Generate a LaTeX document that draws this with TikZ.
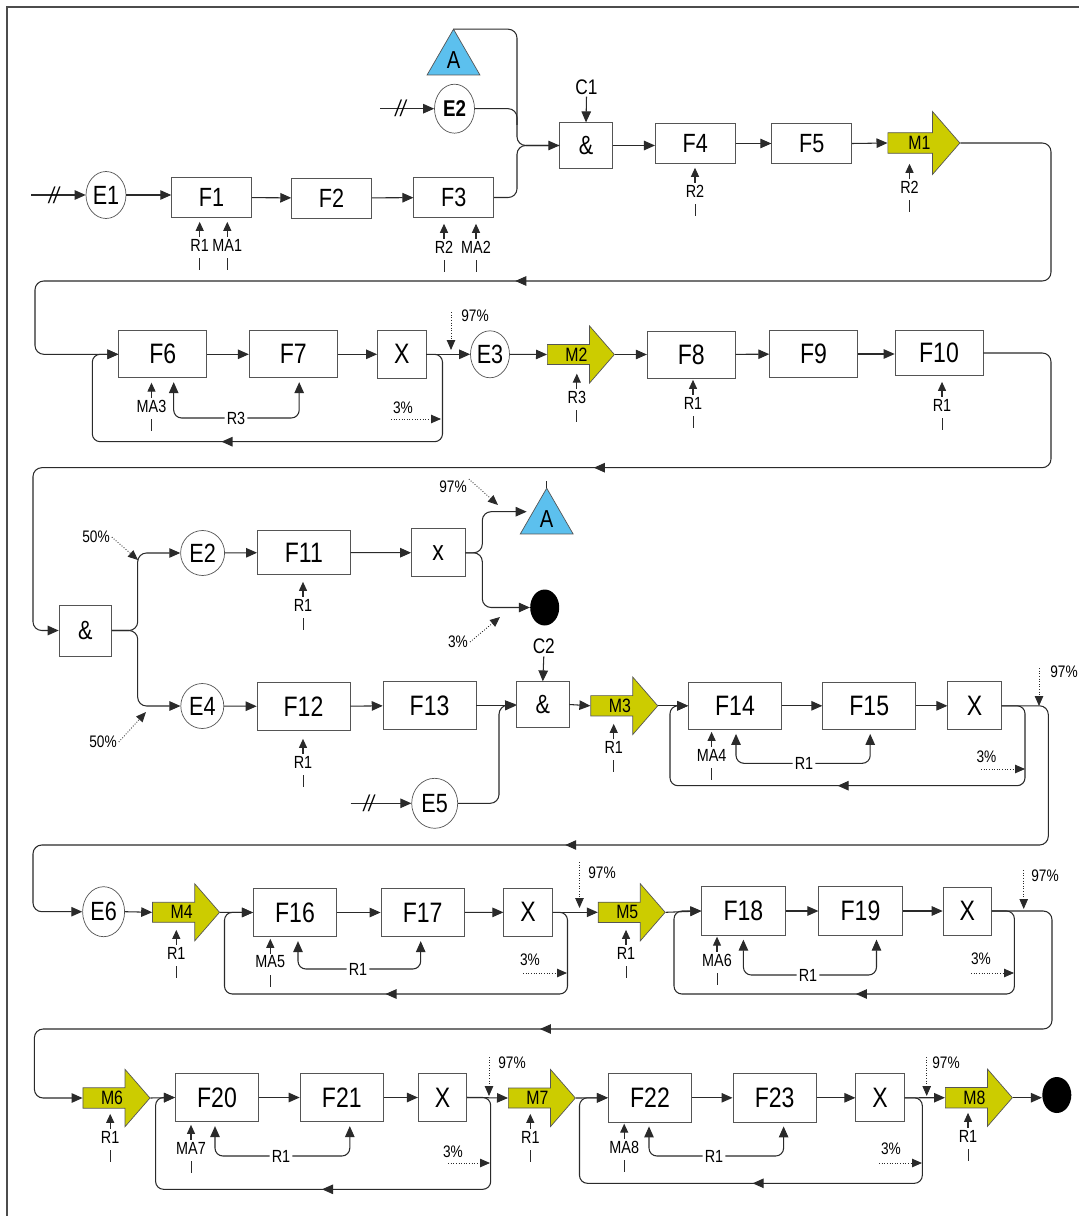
\documentclass[tikz,border=0pt]{standalone}
\usepackage{fontspec}
\setmainfont[FakeStretch=0.82]{Liberation Sans}
\usetikzlibrary{positioning, arrows.meta, shapes.geometric, shapes.arrows, decorations.markings, calc}
\definecolor{mgold}{HTML}{CCCC00}
\definecolor{tblue}{HTML}{5CC0EE}
\definecolor{edgegray}{HTML}{2A2A2A}
\definecolor{boxgray}{HTML}{555555}

\begin{document}
\begin{tikzpicture}[
  x=0.02cm, y=-0.02cm,
  >={Triangle[length=0.22cm, width=0.19cm]},
  wire/.style={draw=edgegray, line width=0.6pt},
  arr/.style={wire, ->},
  midarr/.style={postaction={decorate}, decoration={markings, mark=at position #1 with {\arrow{>}}}},
  dotarr/.style={draw=edgegray, line width=0.5pt, densely dotted, -{Triangle[length=0.2cm, width=0.17cm]}},
  fbox/.style={draw=boxgray, fill=white, minimum width=1.76cm, minimum height=0.94cm, inner sep=0pt, font=\fontsize{16}{16}\selectfont},
  fboxA/.style={fbox, minimum width=1.6cm, minimum height=0.8cm, font=\fontsize{15}{15}\selectfont},
  fboxC/.style={fbox, minimum width=1.86cm, minimum height=0.95cm},
  fboxD/.style={fbox, minimum width=1.67cm, minimum height=0.97cm},
  xbox/.style={fbox, minimum width=0.97cm, minimum height=0.96cm},
  andbox/.style={fbox, minimum width=1.05cm, minimum height=0.91cm, font=\fontsize{15}{15}\selectfont},
  ebox/.style={ellipse, draw=boxgray, fill=white, minimum width=0.8cm, minimum height=0.94cm, inner sep=0pt, font=\fontsize{15}{15}\selectfont},
  mshape/.style={single arrow, draw=boxgray, fill=mgold, anchor=tail, minimum height=1.34cm, minimum width=1.14cm, single arrow head extend=0.37cm, single arrow tip angle=98, inner xsep=0pt, inner ysep=0.06cm, font=\fontsize{11}{11}\selectfont},
  conn/.style={regular polygon, regular polygon sides=3, draw=boxgray, fill=tblue, minimum size=1.22cm, inner sep=0pt, outer sep=0pt, font=\fontsize{14}{14}\selectfont},
  sink/.style={ellipse, fill=black, minimum width=0.58cm, minimum height=0.72cm, inner sep=0pt},
  lbl/.style={inner sep=1pt, font=\fontsize{12}{12}\selectfont},
  reslbl/.style={fill=white, inner sep=1pt, font=\fontsize{10}{10}\selectfont},
  resarr/.style={wire, -{Triangle[length=0.18cm, width=0.16cm]}},
  tick/.style={draw=edgegray, line width=0.45pt},
  pct/.style={inner sep=1pt, font=\fontsize{9.5}{10}\selectfont},
  brk/.style={inner sep=0pt, font=\fontsize{13}{13}\selectfont\itshape}
]
\useasboundingbox (0,0) rectangle (1079,1216);
\draw[draw=black!70, line width=1.3pt] (7,1216) -- (7,7) -- (1079,7);

\node[ebox] (E1) at (106,195) {E1};
\node[fboxA] (F1) at (211.6,197.5) {F1};
\node[fboxA] (F2) at (331.6,198) {F2};
\node[fboxA] (F3) at (453.8,197.5) {F3};
\node[conn] (A1) at (453.5,59.7) {A};
\node[ebox, minimum height=0.98cm, font=\fontsize{13}{13}\selectfont\bfseries] (E2) at (454.5,108.7) {E2};
\node[andbox] (and1) at (586,145.5) {\&};
\node[lbl] (C1) at (586.5,87) {C1};
\node[fboxA] (F4) at (695.3,143.5) {F4};
\node[fboxA] (F5) at (811.7,143.5) {F5};
\node[mshape, minimum height=1.44cm, minimum width=1.26cm, single arrow head extend=0.42cm, inner ysep=0.065cm] (M1) at (887.5,143) {M1};

\coordinate (in1) at (31,195);
\coordinate (in2) at (380,108.7);
\draw[arr] (in1) -- node[brk, pos=0.42] {//} (E1.west);
\draw[arr] (E1.east) -- (E1.east -| F1.west);
\draw[arr] (F1) -- (F2);
\draw[arr] (F2) -- (F3);
\draw[arr] (in2) -- node[brk, pos=0.38] {//} (E2.west);
\draw[wire, rounded corners=5pt] (E2.east) -| (517,125);
\draw[wire, rounded corners=5pt] (A1.corner 1) -| (517,145.5) -- (and1.west);
\draw[arr, rounded corners=5pt] (F3.east) -| (517,145.5) -- (and1.west);
\draw[arr] (C1.south) -- (and1.north);
\draw[arr] (and1.east) -- (and1.east -| F4.west);
\draw[arr] (F4) -- (F5);
\draw[arr] (F5.east) -- (M1.tail);

\node[fbox] (F6) at (162.7,354.3) {F6};
\node[fbox] (F7) at (293.2,354.3) {F7};
\node[xbox] (X1) at (401.7,354.3) {X};
\node[ebox, minimum width=0.78cm] (E3) at (490,354.3) {E3};
\node[mshape] (M2) at (547,354.5) {M2};
\node[fbox] (F8) at (691.2,354.5) {F8};
\node[fbox] (F9) at (813.6,354) {F9};
\node[fbox, minimum height=0.9cm] (F10) at (939,353) {F10};

\draw[arr, rounded corners=5pt, midarr=0.546] (M1.tip) -| (1051,281) -| (35,354.3) -- (F6.west);
\draw[arr] (F6) -- (F7);
\draw[arr] (F7) -- (X1);
\draw[arr] (X1) -- (E3);
\draw[arr] (E3.east) -- (M2.tail);
\draw[arr] (M2.tip) -- (F8.west);
\draw[arr] (F8) -- (F9);
\draw[arr] (F9.east) -- (F9.east -| F10.west);
\draw[arr, rounded corners=4.5pt, midarr=0.574] (X1.east) -| (442.5,441.7) -| (92.3,354.3) -- (F6.west);

\node[andbox, minimum height=1.02cm] (and3) at (85.3,630.5) {\&};
\node[ebox, minimum width=0.88cm, minimum height=0.9cm] (E2b) at (202.6,553) {E2};
\node[fboxC, minimum height=0.88cm] (F11) at (303.9,552.5) {F11};
\node[xbox, minimum width=1.07cm] (xb) at (438.2,552.8) {x};
\node[conn] (A2) at (546.7,518.7) {A};
\node[sink] (dot1) at (544.7,607.5) {};
\node[ebox, minimum width=0.86cm, minimum height=0.9cm] (E4) at (202.3,706) {E4};
\node[fboxC] (F12) at (303.5,706.5) {F12};
\node[fboxC] (F13) at (429.6,705.5) {F13};
\node[ebox, minimum width=0.92cm, minimum height=1.0cm] (E5) at (434.7,803.3) {E5};
\node[andbox] (and2) at (542.8,704.5) {\&};
\node[lbl] (C2) at (543.8,646.7) {C2};
\node[mshape] (M3) at (590.4,705.8) {M3};
\node[fboxC] (F14) at (735,705.8) {F14};
\node[fboxC] (F15) at (869.2,705.8) {F15};
\node[xbox, minimum width=1.07cm] (X3) at (974.5,705.8) {X};

\draw[arr, rounded corners=5pt, midarr=0.46] (F10.east) -| (1051,467.7) -| (33,630.5) -- (and3.west);
\draw[arr, rounded corners=5pt] (and3.east) -| (137.7,553) -- (E2b.west);
\draw[arr, rounded corners=5pt] (and3.east) -| (137.7,706) -- (E4.west);
\draw[arr] (E2b) -- (F11);
\draw[arr] (F11) -- (xb);
\draw[arr, rounded corners=5pt] (xb.east) -- ++(17,0) |- ($(A2.center)+(-20,-7)$);
\draw[arr, rounded corners=5pt] (xb.east) -- ++(17,0) |- (dot1.west);
\draw[wire] (A2.corner 1) -- ++(0,-7);
\draw[arr] (E4) -- (F12);
\draw[arr] (F12) -- (F13);
\draw[arr] (F13.east) -- (F13.east -| and2.west);
\coordinate (in5) at (350.6,803.3);
\draw[arr] (in5) -- node[brk, pos=0.3] {//} (E5.west);
\draw[arr, rounded corners=5pt] (E5.east) -| (499,705.5) -- (and2.west);
\draw[arr] (C2.south) -- (and2.north);
\draw[arr] (and2.east) -- (M3.tail);
\draw[arr] (M3.tip) -- (F14.west);
\draw[arr] (F14) -- (F15);
\draw[arr] (F15) -- (X3);
\draw[arr, rounded corners=4.5pt, midarr=0.523] (X3.east) -| (1025,785.7) -| (670,705.8) -- (F14.west);

\node[ebox, minimum width=0.84cm, minimum height=1.0cm] (E6) at (103.6,911.7) {E6};
\node[mshape] (M4) at (152.2,912.3) {M4};
\node[fboxD] (F16) at (295,912.5) {F16};
\node[fboxD] (F17) at (422.7,912.5) {F17};
\node[xbox] (X4) at (528,912.3) {X};
\node[mshape] (M5) at (597.8,912.3) {M5};
\node[fboxD] (F18) at (743.4,911) {F18};
\node[fboxD] (F19) at (860.5,911) {F19};
\node[xbox] (X5) at (967.3,911) {X};

\draw[arr, rounded corners=5pt, midarr=0.508] (X3.east) -| (1048.3,845) -| (33,911.7) -- (E6.west);
\draw[arr] (E6.east) -- (M4.tail);
\draw[arr] (M4.tip) -- (F16.west);
\draw[arr] (F16) -- (F17);
\draw[arr] (F17) -- (X4);
\draw[arr] (X4.east) -- (M5.tail);
\draw[arr] (M5.tip) -- (F18.west);
\draw[arr] (F18) -- (F19);
\draw[arr] (F19) -- (X5);
\draw[arr, rounded corners=4.5pt, midarr=0.507] (X4.east) -| (567.5,994) -| (224.5,912.3) -- (F16.west);
\draw[arr, rounded corners=4.5pt, midarr=0.474] (X5.east) -| (1014.4,994) -| (674,911) -- (F18.west);

\node[mshape] (M6) at (82.6,1098) {M6};
\node[fboxD] (F20) at (217,1097.5) {F20};
\node[fboxD] (F21) at (341.8,1097.5) {F21};
\node[xbox] (X6) at (442.5,1097.5) {X};
\node[mshape] (M7) at (508,1098) {M7};
\node[fboxD] (F22) at (650,1097.8) {F22};
\node[fboxD] (F23) at (774.6,1097.8) {F23};
\node[xbox] (X7) at (880,1097.8) {X};
\node[mshape] (M8) at (945,1097.7) {M8};
\node[sink] (dot2) at (1056.8,1095) {};

\draw[arr, rounded corners=5pt, midarr=0.526] (X5.east) -| (1052,1029) -| (34.4,1098) -- (M6.tail);
\draw[arr] (M6.tip) -- (F20.west);
\draw[arr] (F20) -- (F21);
\draw[arr] (F21) -- (X6);
\draw[arr] (X6.east) -- (M7.tail);
\draw[arr] (M7.tip) -- (F22.west);
\draw[arr] (F22) -- (F23);
\draw[arr] (F23) -- (X7);
\draw[arr] (X7.east) -- (M8.tail);
\draw[arr] (M8.tip) -- (M8.tip -| dot2.west);
\draw[arr, rounded corners=4.5pt, midarr=0.506] (X6.east) -| (490.7,1189.3) -| (155.6,1097.5) -- (F20.west);
\draw[arr, rounded corners=4.5pt, midarr=0.487] (X7.east) -| (922.3,1183.3) -| (579.5,1097.8) -- (F22.west);

\foreach \x/\y/\t/\n in {199.7/245/R1/rF1a, 227.3/245/MA1/rF1b, 444/247/R2/rF3a, 476/247/MA2/rF3b,
    695/191/R2/rF4, 909.5/187/R2/rM1, 151.5/406/MA3/rF6, 576.8/397/R3/rM2, 693/403/R1/rF8,
    942/405/R1/rF10, 303/605/R1/rF11, 303/762/R1/rF12, 613.7/747/R1/rM3, 711.6/755/MA4/rF14,
    176.3/953/R1/rM4, 270.3/962/MA5/rF16, 626/953/R1/rM5, 717/960/MA6/rF18,
    110.2/1137/R1/rM6, 191/1148/MA7/rF20, 530.3/1137/R1/rM7, 624.2/1147/MA8/rF22, 968/1136/R1/rM8} {
  \node[reslbl] (\n) at (\x,\y) {\t};
  \draw[resarr] (\n.north) -- ++(0,-15);
  \draw[tick] (\n.south) ++(0,5) -- ++(0,12);
}

\foreach \lx/\ly/\t/\n/\a/\b/\da/\db in {236/418/R3/lr2/F6/F7/11/6, 804/763.3/R1/lr3/F14/F15/1/1,
    358/969/R1/lr4a/F16/F17/3/-2, 808/975/R1/lr4b/F18/F19/0/16,
    281/1156/R1/lr5a/F20/F21/-2/8, 714/1156/R1/lr5b/F22/F23/-1/9} {
  \node[reslbl] (\n) at (\lx,\ly) {\t};
  \draw[arr, rounded corners=4.5pt] (\n.west) -| ($(\a.south)+(\da,4)$);
  \draw[arr, rounded corners=4.5pt] (\n.east) -| ($(\b.south)+(\db,4)$);
}

\foreach \x/\ya/\yb/\lx/\ly/\n in {451/312/350/475/316/pa1, 1039/668/706/1064/672/pa2,
    579.5/862/908/602/873/pa3, 1023.7/870/909/1045/876/pa4,
    489/1057/1096/512/1063/pa5, 926.7/1057/1096/946/1063/pa6} {
  \node[pct] (\n) at (\lx,\ly) {97\%};
  \draw[dotarr] (\x,\ya) -- (\x,\yb);
}

\foreach \xa/\xb/\y/\lx/\ly/\n in {391/441/419/403/408/pb1, 981/1025/769/986.5/757/pb2,
    523/567/973/530/960/pb3, 971/1014/973/981/959/pb4,
    448/490/1163/453/1152/pb5, 879/922/1163/891/1149/pb6} {
  \node[pct] (\n) at (\lx,\ly) {3\%};
  \draw[dotarr] (\xa,\y) -- (\xb,\y);
}

\node[pct] (pc1) at (453,487) {97\%};
\draw[dotarr] (pc1.north east) -- (498,505);
\node[pct] (pc2) at (458,642) {3\%};
\draw[dotarr] (pc2.east) -- (500,617);
\node[pct] (pc3) at (96,537) {50\%};
\draw[dotarr] (pc3.east) -- (138,560);
\node[pct] (pc4) at (103,742) {50\%};
\draw[dotarr] (pc4.east) -- (146,712);
\end{tikzpicture}
\end{document}
